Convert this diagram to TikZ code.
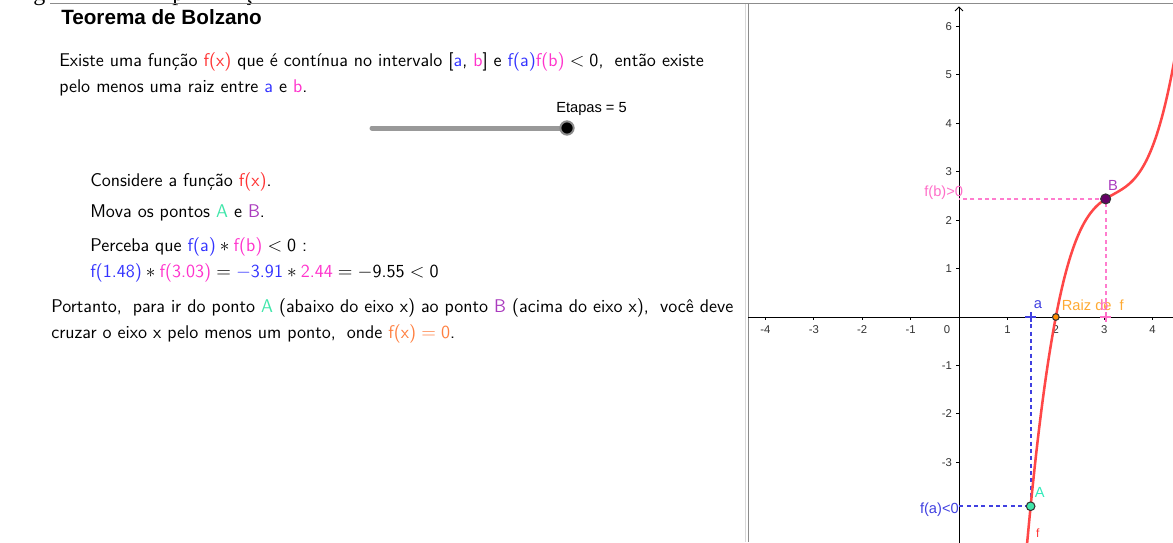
\documentclass[tikz,border=0pt]{standalone}
\usepackage{fontspec}
\usepackage{amsmath}
\usepackage{xcolor}
\usepackage{tikz}
\usetikzlibrary{positioning, arrows.meta, calc, shapes.misc}
\newfontfamily\ggbfont{Liberation Sans}
\newfontfamily\docfont{Liberation Serif}

\definecolor{fcol}{RGB}{255,51,51}
\definecolor{acol}{RGB}{51,51,255}
\definecolor{bcol}{RGB}{255,51,204}
\definecolor{Acol}{RGB}{64,230,170}
\definecolor{Bcol}{RGB}{170,60,190}
\definecolor{Bdot}{RGB}{102,0,102}
\definecolor{rcol}{RGB}{255,127,64}
\definecolor{glblue}{RGB}{64,64,224}
\definecolor{glpink}{RGB}{255,110,200}
\definecolor{glorange}{RGB}{255,170,51}

\tikzset{
  txt/.style   ={anchor=base west, inner sep=0pt, font=\sffamily\fontsize{13.8}{16}\selectfont},
  ttl/.style   ={anchor=base west, inner sep=0pt, font=\ggbfont\bfseries\fontsize{15.5}{18}\selectfont},
  lbl/.style   ={inner sep=0pt, font=\ggbfont\fontsize{11}{13}\selectfont},
  ticklbl/.style={inner sep=0pt, font=\ggbfont\fontsize{8.5}{10}\selectfont, text=black!80},
  frag/.style  ={anchor=base west, inner sep=0pt, font=\docfont\fontsize{18}{20}\selectfont},
  frame/.style ={line width=0.75pt, black!45},
  axis/.style  ={line width=0.75pt, black},
  curve/.style ={line width=1.9pt, fcol!90},
  dot/.style   ={circle, draw=black!80, line width=0.8pt, inner sep=0pt}
}

\begin{document}
\begin{tikzpicture}[
  x=0.75pt, y=-0.75pt,
  slider/.style={line width=3.75pt, black!40, line cap=round},
  knob/.style={circle, fill=black, draw=black!45, line width=1.5pt, minimum size=10pt, inner sep=0pt},
  dashA/.style={line width=1.5pt, glblue, dash pattern=on 3pt off 2.5pt},
  dashB/.style={line width=1.5pt, glpink!90, dash pattern=on 3pt off 2.5pt},
  plusmark/.style={cross out, draw, rotate=45, minimum size=4.2pt, inner sep=0pt, line width=1.3pt}
]
  \useasboundingbox (0,0) rectangle (1173,542);

  % cut-off line of the page above
  \begin{scope}
    \clip (0,0) rectangle (300,9);
    \node[frag] (fg) at (33,0.5) {g};
    \node[frag] (fp) at (172,0.5) {p};
    \node[frag] (fc) at (243,0.5) {ç};
  \end{scope}

  % panel frames
  \draw[frame] (50,4) -- (1173,4);
  \draw[frame, black!15] (745,4) -- (745,542);
  \draw[frame] (748,4) -- (748,542);

  % text panel
  \node[ttl] (title) at (61,25) {Teorema de Bolzano};
  \node[txt] (l1) at (59,67) {Existe uma função \textcolor{fcol}{f(x)} que é contínua no intervalo [\textcolor{acol}{a}, \textcolor{bcol}{b}] e \textcolor{acol}{f(a)}\textcolor{bcol}{f(b)}\;$<$\;0,\; então existe};
  \node[txt] (l2) at (59,92) {pelo menos uma raiz entre \textcolor{acol}{a} e \textcolor{bcol}{b}.};

  % slider
  \coordinate (s0) at (372,128);
  \coordinate (s1) at (567,128);
  \draw[slider] (s0) -- (s1);
  \node[knob] (knob) at (s1) {};
  \node[lbl, anchor=base west] (etapas) at (556,113) {Etapas = 5};

  \node[txt] (l3) at (90,186) {Considere a função \textcolor{fcol}{f(x)}.};
  \node[txt] (l4) at (90,217) {Mova os pontos \textcolor{Acol}{A} e \textcolor{Bcol}{B}.};
  \node[txt] (l5) at (90,251) {Perceba que \textcolor{acol}{f(a)}\:$*$\:\textcolor{bcol}{f(b)}\;$<$\;0 :};
  \node[txt] (l6) at (90,277) {\textcolor{acol}{f(1.48)}\:$*$\:\textcolor{bcol}{f(3.03)}\;$=$\;\textcolor{acol}{$-$3.91}\:$*$\:\textcolor{bcol}{2.44}\;$=$\;$-$9.55\;$<$\;0};
  \node[txt] (l7) at (51,312) {Portanto,\; para ir do ponto \textcolor{Acol}{A} (abaixo do eixo x) ao ponto \textcolor{Bcol}{B} (acima do eixo x),\; você deve};
  \node[txt] (l8) at (51,338) {cruzar o eixo x pelo menos um ponto,\; onde \textcolor{rcol}{f(x)\;$=$\;0}.};

  % graphics view
  \begin{scope}
    \clip (748,4) rectangle (1173,542);
    \begin{scope}[shift={(959,317)}, x=36.3pt, y=36.3pt]
      % axes
      \draw[axis] (-4.4,0) -- (4.6,0);
      \draw[axis, -{Straight Barb[length=3pt, width=6pt]}] (0,-4.8) -- (0,6.42);
      \foreach \k in {-4,...,-1,1,2,3,4} {
        \draw[axis] (\k,0) -- (\k,-0.07);
        \node[ticklbl] (xl\k) at (\k,-0.25) {\k};
      }
      \node[ticklbl] (xl0) at (-0.25,-0.25) {0};
      \foreach \k in {-3,...,-1,1,2,...,6} {
        \draw[axis] (0,\k) -- (-0.07,\k);
        \node[ticklbl, anchor=east] (yl\k) at (-0.14,\k) {\k};
      }

      % dashed guides
      \coordinate (a) at (1.48,0);
      \coordinate (pA) at (1.48,-3.91);
      \coordinate (fa) at (0,-3.91);
      \coordinate (b) at (3.03,0);
      \coordinate (pB) at (3.03,2.44);
      \coordinate (fb) at (0,2.44);
      \draw[dashA] (a) -- (pA) -- (fa);
      \draw[dashB] (b) -- (pB) -- (fb);

      % f
      \draw[curve] plot[domain=1.38:4.5, samples=90, smooth]
        (\x, {(\x-2)*(1.071*(\x-3.806)^2+1.724)});

      % points
      \node[plusmark, glblue] (ma) at (a) {};
      \node[plusmark, glpink] (mb) at (b) {};
      \node[dot, fill=orange!90!yellow, minimum size=5pt] (root) at (2,0) {};
      \node[dot, fill=Acol, minimum size=6.5pt] (A) at (pA) {};
      \node[dot, fill=Bdot, draw=black!80, minimum size=7.5pt] (B) at (pB) {};

      % labels
      \node[lbl, text=glblue] (alb) at (1.63,0.26) {a};
      \node[lbl, text=glorange, anchor=west] (rlb) at (2.12,0.25) {Raiz de\hspace{6pt}f};
      \node[lbl, text=glpink] (blb) at (3.0,0.25) {b};
      \node[lbl, text=Bcol] (Blb) at (3.18,2.71) {B};
      \node[lbl, text=Acol!80!cyan] (Alb) at (1.67,-3.62) {A};
      \node[lbl, text=glpink, anchor=east] (fblb) at (0.09,2.56) {f(b)>0};
      \node[lbl, text=glblue, anchor=east] (falb) at (0.0,-3.99) {f(a)<0};
      \node[lbl, text=fcol, font=\ggbfont\fontsize{9}{10}\selectfont] (flb) at (1.63,-4.46) {f};
    \end{scope}
  \end{scope}
\end{tikzpicture}
\end{document}
